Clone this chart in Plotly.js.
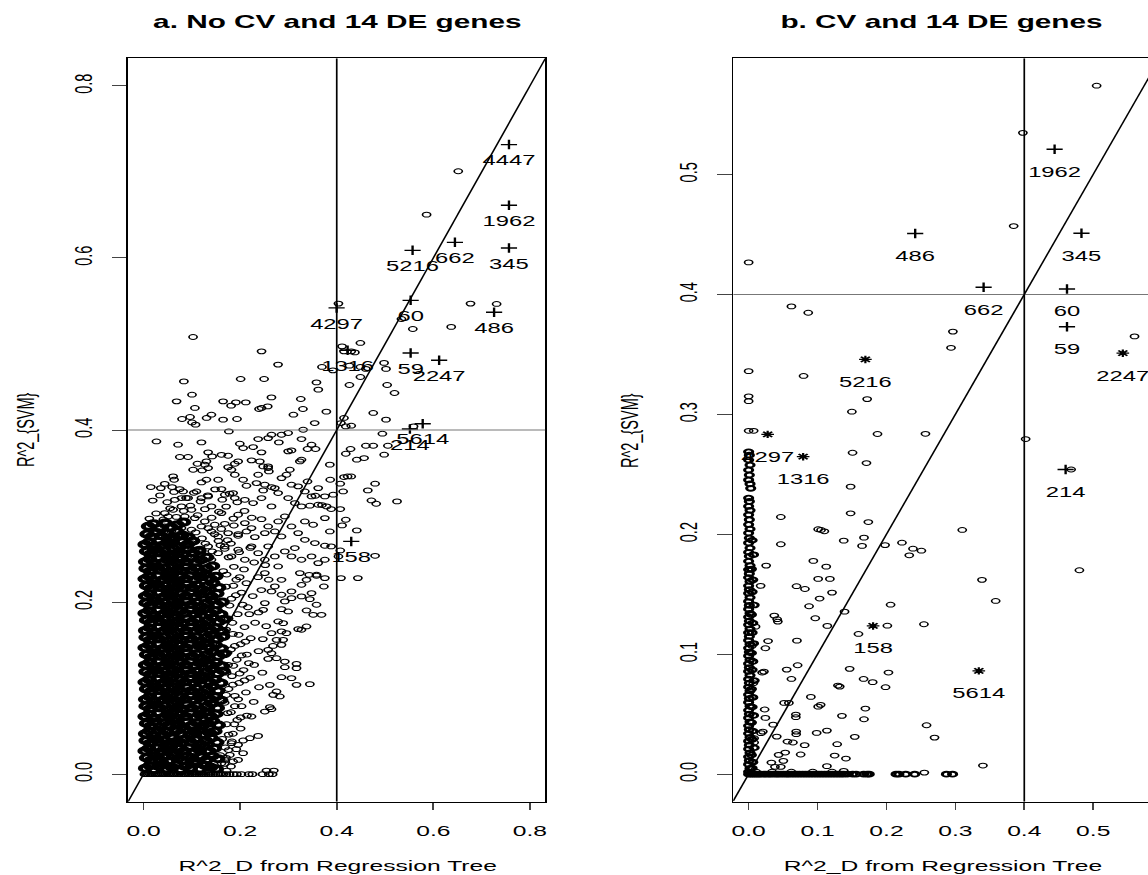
<!DOCTYPE html>
<html><head><meta charset="utf-8">
<script src="https://cdn.plot.ly/plotly-3.0.1.min.js"></script>
<style>
html,body{margin:0;padding:0;overflow:hidden;background:#fff;width:1148px;height:875px;}
#wrap{width:682px;height:875px;transform:scaleX(1.7);transform-origin:0 0;}
</style></head><body>
<div id="wrap"><div id="chart" style="width:682px;height:875px;"></div></div>
<script>
// ---------- DATA ----------
const THRESHOLD = 0.4;
const LABEL_DROP = 0.02;
const xTicksA = [0, 0.2, 0.4, 0.6, 0.8];
const yTicksA = [0, 0.2, 0.4, 0.6, 0.8];
const xTicksB = [0, 0.1, 0.2, 0.3, 0.4, 0.5];
const yTicksB = [0, 0.1, 0.2, 0.3, 0.4, 0.5];

// Panel a: labelled DE genes
const aGeneId = ['4447','1962','5216','662','345','4297','60','486','1316','59','2247','5614','214','158'];
const aGeneX  = [0.7566,0.7566,0.557,0.6447,0.7566,0.3997,0.553,0.7258,0.4225,0.553,0.612,0.578,0.5515,0.43];
const aGeneY  = [0.7317,0.6612,0.6088,0.6181,0.6116,0.5419,0.5507,0.5368,0.4926,0.4895,0.481,0.4073,0.4012,0.2705];

// Panel b: labelled DE genes
const bGeneId  = ['1962','486','345','662','60','59','214','2247','5216','4297','1316','158','5614'];
const bGeneX   = [0.444,0.2417,0.483,0.341,0.462,0.462,0.460,0.543,0.1694,0.0276,0.0791,0.1806,0.334];
const bGeneY   = [0.521,0.4508,0.451,0.406,0.4045,0.373,0.254,0.351,0.3458,0.2833,0.2647,0.1236,0.0861];
const bGeneSym = ['+','+','+','+','+','+','+','*','*','*','*','*','*'];

// Panel a: isolated points
const aSparse = [[0.6516,0.7007],[0.586,0.6503],[0.4035,0.5469],[0.677,0.5469],[0.731,0.5465],[0.534,0.529],[0.5575,0.5174],[0.637,0.5198],[0.1025,0.5081],
[0.411,0.4972],[0.415,0.4914],[0.430,0.4914],[0.4375,0.4902],[0.449,0.5012],[0.2443,0.4914],[0.2785,0.476],[0.3694,0.4733],[0.3921,0.4693],[0.4263,0.4748],[0.449,0.4733],[0.4603,0.471],[0.498,0.478],[0.502,0.471],
[0.449,0.4616],[0.4263,0.4523],[0.5044,0.4523],[0.5196,0.443],[0.0835,0.4565],[0.201,0.4593],[0.2496,0.4593],[0.358,0.4553],[0.3618,0.4469],
[0.1003,0.441],[0.0684,0.4333],[0.1063,0.4256],[0.1647,0.4333],[0.1813,0.4283],[0.1912,0.4321],[0.2117,0.4321],[0.2648,0.4379],[0.2391,0.4244],[0.2443,0.4256],[0.2571,0.4274],
[0.3255,0.436],[0.33,0.4244],[0.3785,0.4213],[0.3103,0.4178],[0.3543,0.4081],[0.0797,0.4128],[0.0963,0.4151],[0.1003,0.4088],[0.1077,0.4062],[0.1405,0.4178],[0.1305,0.414],[0.1647,0.412],[0.1935,0.4128],
[0.415,0.414],[0.4187,0.4042],[0.43,0.405],[0.4087,0.4081],[0.4756,0.4198],[0.502,0.412],[0.559,0.4042],
[0.4945,0.3957],[0.4982,0.3713],[0.4603,0.3817],[0.4756,0.3817],[0.5059,0.3817],[0.4566,0.3674],[0.4187,0.3724],[0.4286,0.3779],[0.4415,0.3655],
[0.5248,0.317],[0.4794,0.3376],[0.4643,0.3298],[0.4718,0.3181],[0.4817,0.3143],[0.415,0.3453],[0.4225,0.346],[0.43,0.346],[0.4073,0.3376],[0.4133,0.3286],
[0.3557,0.3236],[0.3694,0.3128],[0.3884,0.3081],[0.4073,0.3081],[0.4187,0.2957],[0.411,0.2891],[0.4415,0.2833],[0.4794,0.2538],[0.4073,0.26],[0.4035,0.253],[0.3884,0.2647],
[0.4088,0.2279],[0.4437,0.2279],[0.3733,0.2181],[0.3429,0.2317],[0.358,0.2306],[0.2545,0.0042],[0.2697,0.0042]];

// Panel a: medium-density band
const aMid = [[0.0267,0.3867],[0.0715,0.3829],[0.1199,0.3856],[0.1766,0.3984],[0.1993,0.384],[0.2062,0.379],[0.2269,0.3802],[0.2373,0.3895],[0.2442,0.374],[0.258,0.3906],[0.2649,0.3945],[0.2801,0.3856],[0.2856,0.3945],[0.2994,0.3965],[0.3063,0.3763],[0.327,0.3895],[0.3305,0.4003],[0.3395,0.3779],[0.3478,0.3829],[0.3561,0.3779],[0.3236,0.3635],[0.327,0.3655],[0.3857,0.3597],[0.075,0.3686],[0.0922,0.3686],[0.1337,0.374],[0.1302,0.3635],[0.142,0.3693],[0.1613,0.3712],[0.1751,0.3701],[0.1116,0.3608],[0.1268,0.3597],[0.1889,0.3608],[0.1958,0.3635],[0.2235,0.3647],[0.2407,0.3635],[0.2477,0.3577],[0.258,0.3577],[0.2994,0.3752],
[0.1026,0.3538],[0.1213,0.353],[0.1337,0.3558],[0.1751,0.3569],[0.182,0.3538],[0.1889,0.348],[0.2373,0.348],[0.258,0.3558],[0.2594,0.3519],[0.2856,0.3441],[0.2959,0.348],[0.3029,0.3538],[0.3395,0.3402],[0.3616,0.3325],[0.3865,0.3422],[0.0612,0.3461],[0.0633,0.3422],[0.0439,0.3375],[0.015,0.3337],[0.0357,0.3325],[0.0591,0.3337],[0.075,0.3313],[0.0819,0.3286],[0.1199,0.3391],[0.1302,0.3422],[0.1544,0.3422],[0.1613,0.3313],[0.1682,0.3248],[0.1855,0.3267],[0.2062,0.3422],[0.2131,0.3352],[0.2338,0.3383],[0.2511,0.3364],[0.2649,0.3337],[0.2477,0.3298],[0.2718,0.3325],[0.2787,0.3267],[0.3063,0.3364],[0.3201,0.3345],[0.334,0.3286],[0.3478,0.3228],[0.3754,0.3228],[0.3926,0.3248],[0.0922,0.3209],[0.1337,0.3228],[0.1095,0.3286],
[0.0647,0.3189],[0.0785,0.3209],[0.1199,0.3209],[0.0439,0.3034],[0.0612,0.3073],[0.0785,0.3112],[0.0992,0.3073],[0.1406,0.3112],[0.1613,0.3034],[0.1889,0.3209],[0.2097,0.3189],[0.2269,0.3151],[0.2442,0.3209],[0.2649,0.3112],[0.2994,0.3209],[0.3132,0.3151],[0.327,0.3112],[0.3443,0.312],[0.3616,0.3131],[0.3789,0.3112],[0.0439,0.2879],[0.0508,0.2995],[0.0854,0.2995],[0.106,0.2976],[0.1268,0.2937],[0.1475,0.2899],[0.1682,0.291],[0.1958,0.3015],[0.2097,0.2918],[0.2235,0.286],[0.2442,0.2964],[0.258,0.2879],[0.2787,0.2937],[0.2925,0.2995],[0.3063,0.2879],[0.334,0.2937],[0.3512,0.2899],[0.3754,0.2976],[0.3857,0.2821],[0.0163,0.2755],[0.0301,0.2771],[0.0577,0.2821],[0.0785,0.286],[0.0992,0.2841],[0.1199,0.2879],[0.1406,0.2821],[0.1544,0.2763],[0.1751,0.2802],[0.1958,0.2771],[0.2131,0.2821],[0.2304,0.2755],[0.2511,0.2802],[0.2718,0.2821],[0.2856,0.2763],[0.3201,0.2802],[0.334,0.2724],[0.3547,0.2686],[0.3754,0.2655],
[0.0129,0.2531],[0.0232,0.2589],[0.0301,0.2725],[0.0439,0.2647],[0.0577,0.2686],[0.0647,0.2569],[0.0715,0.2492],[0.0854,0.2628],[0.0992,0.2686],[0.106,0.2531],[0.1199,0.2589],[0.1337,0.2647],[0.1406,0.2492],[0.1544,0.2569],[0.1682,0.2647],[0.182,0.2531],[0.1958,0.2608],[0.2097,0.2492],[0.2235,0.2647],[0.2373,0.2569],[0.2511,0.2492],[0.258,0.2647],[0.2718,0.2531],[0.2787,0.2414],[0.2925,0.2589],[0.3063,0.2531],[0.3132,0.2628],[0.327,0.2492],[0.3478,0.2531],[0.3616,0.2453],[0.3754,0.2492],[0.3236,0.2337],[0.3374,0.2259],[0.3582,0.2318],[0.3754,0.2279],
[0.2511,0.2337],[0.2718,0.2182],[0.2856,0.2259],[0.3063,0.2124],[0.327,0.2201],[0.3478,0.2104],
[0.012,0.297],[0.026,0.303],[0.041,0.296],[0.055,0.309],[0.068,0.299],[0.083,0.306],[0.097,0.312],[0.112,0.301],[0.127,0.308],[0.141,0.298],[0.156,0.305],[0.171,0.311],[0.186,0.297],[0.019,0.318],[0.034,0.324],[0.049,0.316],[0.063,0.328],[0.088,0.321],[0.104,0.327],[0.118,0.317],[0.133,0.324],[0.148,0.331],[0.163,0.319],[0.178,0.326],[0.194,0.316],[0.209,0.306],[0.224,0.298],
[0.108,0.281],[0.121,0.274],[0.134,0.286],[0.147,0.279],[0.161,0.285],[0.174,0.272],[0.187,0.289],[0.117,0.262],[0.128,0.268],[0.142,0.259],[0.155,0.271],[0.168,0.262],[0.181,0.268],[0.196,0.279]];

// Panel a: right fringe of the dense cloud
const aFringe = [[0.2649,0.2124],[0.2856,0.2085],[0.3063,0.2046],[0.327,0.2066],[0.3443,0.2034],[0.3581,0.1969],[0.3685,0.1852],[0.3512,0.1852],[0.3374,0.1903],[0.2994,0.1891],[0.2856,0.1918],[0.2925,0.2008],[0.2511,0.1988],[0.2477,0.191],[0.2787,0.1775],[0.2891,0.1755],[0.3374,0.1717],[0.327,0.1678],[0.3201,0.1686],[0.2649,0.1639],[0.2856,0.1659],[0.2959,0.1639],[0.2753,0.1561],[0.2891,0.1561],[0.2856,0.1503],[0.258,0.1445],[0.2649,0.1406],[0.2753,0.1348],[0.2925,0.1309],[0.3167,0.1282],[0.3167,0.1232],[0.2925,0.1243],[0.2856,0.1127],[0.3063,0.1116],[0.3167,0.1038],[0.3443,0.1046],[0.2615,0.1038],[0.2753,0.0961],[0.2822,0.0903],[0.2684,0.0922],[0.2615,0.0779],[0.2649,0.0755],[0.2511,0.0728],[0.2235,0.067],[0.2373,0.0445],[0.2201,0.0418],[0.2062,0.0391],[0.182,0.036],[0.1958,0.0341],[0.2062,0.0244],[0.1786,0.0224],[0.1958,0.0166],[0.1855,0.0147],[0.1613,0.0128],[0.1682,0.0166],
[0.168,0.012],[0.176,0.028],[0.163,0.041],[0.185,0.047],[0.172,0.058],[0.194,0.063],[0.181,0.072],[0.168,0.083],[0.203,0.079],[0.189,0.091],[0.176,0.099],[0.212,0.095],[0.198,0.106],[0.183,0.114],[0.221,0.112],[0.207,0.121],[0.175,0.127],[0.193,0.133],[0.229,0.127],[0.214,0.139],[0.181,0.145],[0.238,0.143],[0.201,0.151],[0.222,0.158],[0.185,0.163],[0.247,0.157],[0.209,0.171],[0.231,0.176],[0.176,0.181],[0.195,0.186],[0.254,0.172],[0.216,0.194],[0.238,0.188],[0.182,0.204],[0.203,0.211],[0.226,0.207],[0.171,0.218],[0.192,0.226],[0.213,0.222],[0.237,0.229],[0.165,0.236],[0.187,0.241],[0.208,0.238],[0.229,0.246],[0.176,0.252],[0.198,0.258],[0.221,0.263],[0.159,0.266],[0.244,0.214],[0.259,0.226],[0.252,0.243],[0.192,0.029],[0.201,0.053],[0.214,0.068],[0.228,0.084],[0.239,0.101],[0.246,0.118],[0.258,0.134],[0.268,0.149],[0.172,0.004],[0.181,0.009],[0.159,0.022],
[0.172,0.232],[0.186,0.219],[0.199,0.229],[0.178,0.196],[0.191,0.208],[0.205,0.197],[0.219,0.186],[0.171,0.168],[0.184,0.176],[0.197,0.162],[0.211,0.154],[0.174,0.141],[0.189,0.149],[0.203,0.138],[0.218,0.129],[0.172,0.118],[0.186,0.126],[0.199,0.117],[0.171,0.092],[0.185,0.104],[0.196,0.087],[0.209,0.109],[0.174,0.071],[0.189,0.079],[0.201,0.066],[0.176,0.046],[0.188,0.058],[0.169,0.031],[0.183,0.038],[0.171,0.019]];

// Panel a: dense core (estimated, the picture is solid black here)
const aCore = [
[0.004,0.007],[0.013,0.010],[0.021,0.005],[0.031,0.009],[0.040,0.012],[0.048,0.006],[0.059,0.008],[0.068,0.011],[0.077,0.005],[0.086,0.009],[0.097,0.007],[0.106,0.012],[0.117,0.006],[0.128,0.010],[0.139,0.008],[0.151,0.006],
[0.006,0.019],[0.015,0.016],[0.024,0.021],[0.033,0.017],[0.043,0.020],[0.052,0.015],[0.061,0.022],[0.071,0.018],[0.080,0.016],[0.090,0.021],[0.099,0.019],[0.109,0.015],[0.120,0.020],[0.131,0.017],[0.142,0.021],[0.154,0.018],
[0.003,0.027],[0.011,0.030],[0.020,0.025],[0.029,0.031],[0.037,0.026],[0.047,0.029],[0.056,0.032],[0.066,0.025],[0.075,0.030],[0.084,0.027],[0.094,0.031],[0.104,0.026],[0.114,0.029],[0.125,0.032],[0.136,0.027],[0.147,0.030],
[0.005,0.039],[0.014,0.036],[0.023,0.041],[0.032,0.037],[0.041,0.040],[0.050,0.035],[0.060,0.042],[0.069,0.038],[0.079,0.036],[0.088,0.041],[0.098,0.037],[0.108,0.040],[0.118,0.035],[0.129,0.039],[0.140,0.042],[0.152,0.037],
[0.004,0.047],[0.012,0.050],[0.021,0.045],[0.030,0.051],[0.039,0.046],[0.049,0.049],[0.058,0.044],[0.067,0.050],[0.076,0.047],[0.086,0.052],[0.096,0.045],[0.105,0.049],[0.115,0.051],[0.126,0.046],[0.137,0.048],[0.148,0.050],
[0.006,0.059],[0.015,0.056],[0.024,0.061],[0.034,0.055],[0.043,0.060],[0.052,0.057],[0.062,0.062],[0.071,0.058],[0.081,0.055],[0.090,0.061],[0.100,0.057],[0.110,0.060],[0.121,0.056],[0.132,0.059],[0.143,0.062],[0.155,0.057],
[0.003,0.067],[0.012,0.070],[0.022,0.065],[0.031,0.071],[0.040,0.066],[0.050,0.069],[0.059,0.072],[0.068,0.065],[0.078,0.070],[0.087,0.067],[0.097,0.071],[0.107,0.066],[0.117,0.069],[0.128,0.072],[0.139,0.067],[0.150,0.070],
[0.005,0.079],[0.014,0.076],[0.023,0.081],[0.033,0.077],[0.042,0.080],[0.051,0.075],[0.061,0.082],[0.070,0.078],[0.080,0.076],[0.089,0.081],[0.099,0.077],[0.109,0.080],[0.119,0.075],[0.130,0.079],[0.141,0.082],[0.153,0.077],
[0.004,0.087],[0.013,0.090],[0.021,0.085],[0.030,0.091],[0.040,0.086],[0.049,0.089],[0.058,0.092],[0.068,0.085],[0.077,0.090],[0.086,0.087],[0.096,0.091],[0.106,0.086],[0.116,0.089],[0.127,0.092],[0.138,0.087],[0.149,0.090],[0.160,0.086],
[0.006,0.099],[0.015,0.096],[0.024,0.101],[0.033,0.097],[0.042,0.100],[0.052,0.095],[0.061,0.102],[0.071,0.098],[0.080,0.096],[0.090,0.101],[0.099,0.097],[0.109,0.100],[0.120,0.095],[0.131,0.099],[0.142,0.102],[0.154,0.097],
[0.003,0.107],[0.012,0.110],[0.021,0.105],[0.030,0.111],[0.039,0.106],[0.048,0.109],[0.058,0.112],[0.067,0.105],[0.077,0.110],[0.086,0.107],[0.096,0.111],[0.105,0.106],[0.115,0.109],[0.126,0.112],[0.137,0.107],[0.148,0.110],[0.160,0.106],
[0.005,0.119],[0.014,0.116],[0.023,0.121],[0.032,0.117],[0.042,0.120],[0.051,0.115],[0.060,0.122],[0.070,0.118],[0.079,0.116],[0.089,0.121],[0.098,0.117],[0.108,0.120],[0.119,0.115],[0.130,0.119],[0.141,0.122],[0.153,0.117],[0.165,0.120],
[0.004,0.127],[0.013,0.130],[0.022,0.125],[0.031,0.131],[0.040,0.126],[0.049,0.129],[0.059,0.132],[0.068,0.125],[0.078,0.130],[0.087,0.127],[0.097,0.131],[0.107,0.126],[0.117,0.129],[0.128,0.132],[0.139,0.127],[0.150,0.130],[0.162,0.126],
[0.006,0.139],[0.015,0.136],[0.024,0.141],[0.033,0.137],[0.043,0.140],[0.052,0.135],[0.061,0.142],[0.071,0.138],[0.080,0.136],[0.090,0.141],[0.100,0.137],[0.110,0.140],[0.120,0.135],[0.131,0.139],[0.142,0.142],[0.154,0.137],[0.166,0.140],
[0.003,0.147],[0.012,0.150],[0.021,0.145],[0.031,0.151],[0.040,0.146],[0.049,0.149],[0.058,0.152],[0.068,0.145],[0.077,0.150],[0.087,0.147],[0.096,0.151],[0.106,0.146],[0.116,0.149],[0.127,0.152],[0.138,0.147],[0.149,0.150],[0.161,0.146],
[0.005,0.159],[0.014,0.156],[0.023,0.161],[0.032,0.157],[0.042,0.160],[0.051,0.155],[0.060,0.162],[0.070,0.158],[0.079,0.156],[0.089,0.161],[0.099,0.157],[0.109,0.160],[0.119,0.155],[0.130,0.159],[0.141,0.162],[0.152,0.157],[0.164,0.160],
[0.004,0.167],[0.013,0.170],[0.022,0.165],[0.031,0.171],[0.040,0.166],[0.050,0.169],[0.059,0.172],[0.068,0.165],[0.078,0.170],[0.088,0.167],[0.097,0.171],[0.107,0.166],[0.117,0.169],[0.128,0.172],[0.139,0.167],[0.150,0.170],[0.162,0.166],
[0.006,0.179],[0.015,0.176],[0.024,0.181],[0.034,0.177],[0.043,0.180],[0.052,0.175],[0.062,0.182],[0.071,0.178],[0.081,0.176],[0.090,0.181],[0.100,0.177],[0.110,0.180],[0.121,0.175],[0.132,0.179],[0.143,0.182],[0.155,0.177],[0.167,0.180],
[0.003,0.187],[0.012,0.190],[0.021,0.185],[0.030,0.191],[0.040,0.186],[0.049,0.189],[0.058,0.192],[0.067,0.185],[0.077,0.190],[0.086,0.187],[0.096,0.191],[0.106,0.186],[0.116,0.189],[0.127,0.192],[0.138,0.187],[0.149,0.190],[0.160,0.186],
[0.005,0.199],[0.014,0.196],[0.023,0.201],[0.033,0.197],[0.042,0.200],[0.051,0.195],[0.061,0.202],[0.070,0.198],[0.080,0.196],[0.089,0.201],[0.099,0.197],[0.109,0.200],[0.119,0.195],[0.130,0.199],[0.141,0.202],[0.152,0.197],[0.163,0.200],
[0.004,0.207],[0.013,0.210],[0.022,0.205],[0.031,0.211],[0.041,0.206],[0.050,0.209],[0.059,0.212],[0.069,0.205],[0.078,0.210],[0.088,0.207],[0.097,0.211],[0.107,0.206],[0.118,0.209],[0.129,0.212],[0.140,0.207],[0.152,0.210],
[0.006,0.219],[0.015,0.216],[0.024,0.221],[0.033,0.217],[0.043,0.220],[0.052,0.215],[0.062,0.222],[0.071,0.218],[0.081,0.216],[0.090,0.221],[0.100,0.217],[0.110,0.220],[0.121,0.215],[0.132,0.219],[0.144,0.222],[0.156,0.217],
[0.003,0.227],[0.012,0.230],[0.021,0.225],[0.030,0.231],[0.040,0.226],[0.049,0.229],[0.058,0.232],[0.068,0.225],[0.077,0.230],[0.087,0.227],[0.096,0.231],[0.106,0.226],[0.117,0.229],[0.128,0.232],[0.139,0.227],[0.150,0.230],
[0.005,0.239],[0.014,0.236],[0.023,0.241],[0.033,0.237],[0.042,0.240],[0.051,0.235],[0.061,0.242],[0.070,0.238],[0.080,0.236],[0.089,0.241],[0.099,0.237],[0.109,0.240],[0.120,0.235],[0.131,0.239],[0.143,0.242],
[0.004,0.247],[0.013,0.250],[0.022,0.245],[0.031,0.251],[0.041,0.246],[0.050,0.249],[0.059,0.252],[0.069,0.245],[0.078,0.250],[0.088,0.247],[0.098,0.251],[0.108,0.246],[0.119,0.249],[0.131,0.252],
[0.006,0.259],[0.015,0.256],[0.024,0.261],[0.034,0.257],[0.043,0.260],[0.053,0.255],[0.062,0.262],[0.072,0.258],[0.082,0.256],[0.092,0.261],[0.103,0.257],[0.115,0.260],
[0.003,0.267],[0.012,0.270],[0.022,0.265],[0.031,0.271],[0.041,0.266],[0.050,0.269],[0.060,0.272],[0.070,0.265],[0.080,0.270],[0.091,0.267],[0.102,0.271],
[0.007,0.279],[0.017,0.276],[0.027,0.281],[0.037,0.277],[0.048,0.280],[0.058,0.275],[0.069,0.282],[0.080,0.278],[0.092,0.276],
[0.010,0.288],[0.021,0.291],[0.033,0.286],[0.045,0.292],[0.057,0.287],[0.070,0.290],[0.083,0.293]];

// Panel a: points lying on R2_SVM = 0
const aZeroX = [0.002,0.005,0.009,0.013,0.016,0.020,0.025,0.029,0.033,0.038,0.042,0.046,0.051,0.055,0.060,0.064,0.069,0.073,0.078,0.083,0.087,0.092,0.096,0.101,0.106,0.110,0.115,0.120,0.125,0.129,0.134,0.139,0.144,0.149,0.154,0.159,0.165,0.171,0.178,0.186,0.193,0.2026,0.2177,0.2254,0.2465,0.2594,0.267];

// Panel b: isolated points
const bSparse = [[0.505,0.574],[0.398,0.5347],[0.3846,0.457],[0.560,0.365],[0.402,0.2794],[0.468,0.254],[0.310,0.2036],[0.480,0.170],[0.3386,0.162],[0.3585,0.1444],[0.0,0.4267],
[0.0621,0.390],[0.0865,0.3847],[0.2964,0.369],[0.2937,0.3555],[0.0,0.336],[0.0797,0.332],[0.0,0.315],[0.0,0.311],[0.172,0.3127],[0.1498,0.3022],[0.0,0.2863],[0.0073,0.2863],[0.187,0.2836],[0.2566,0.2838],[0.1508,0.268],[0.171,0.2594],[0.148,0.2397],[0.0467,0.2144],[0.148,0.2175],[0.1737,0.2102],[0.1009,0.2042],[0.1051,0.2036],[0.1099,0.2025],[0.0467,0.1917],[0.138,0.1947],[0.1674,0.1972],[0.1646,0.1903],[0.198,0.191],[0.2225,0.193],[0.2385,0.188],[0.2507,0.1863],[0.2331,0.1825],[0.0254,0.1739],[0.0939,0.1778],[0.1126,0.173],[0.1009,0.1628],[0.1179,0.1628],
[0.0174,0.157],[0.0695,0.1567],[0.0817,0.1544],[0.121,0.1514],[0.103,0.1464],[0.0877,0.140],[0.1392,0.1355],[0.206,0.1413],[0.0372,0.1322],[0.0414,0.1292],[0.0424,0.1272],[0.0967,0.130],[0.010,0.123],[0.1142,0.1236],[0.2013,0.1238],[0.2544,0.125],[0.1594,0.1169],[0.0282,0.111],[0.0701,0.1113],[0.0243,0.105],[0.0048,0.107],[0.0222,0.0855],[0.0196,0.0847],[0.0552,0.0872],[0.0711,0.0908],[0.0621,0.0794],[0.1466,0.0878],[0.1668,0.0794],[0.180,0.0767],[0.2029,0.0847],[0.1987,0.0725],[0.1296,0.0739],[0.1322,0.073],[0.0068,0.0758],[0.0903,0.0644],[0.1009,0.0563],[0.1045,0.0578],[0.0515,0.0594],[0.0584,0.0594],[0.0232,0.0539],[0.0243,0.0469],[0.0685,0.0497],[0.0685,0.0475],[0.1694,0.0547],[0.1354,0.0486],[0.1674,0.0458],[0.0356,0.0413],[0.2582,0.0408],[0.2698,0.0305],[0.0206,0.0355],[0.018,0.0342],[0.0408,0.0313],[0.069,0.0355],[0.069,0.0333],[0.0987,0.0344],[0.1136,0.0363],[0.154,0.0311],[0.0563,0.0272],[0.0643,0.0264],[0.0813,0.0242],[0.1285,0.025],[0.008,0.030],[0.008,0.0264],[0.0435,0.0161],[0.0531,0.018],[0.0755,0.0164],[0.1248,0.0155],[0.1412,0.013],[0.033,0.0097],[0.0504,0.0111],[0.0382,0.0061],[0.0467,0.0061],[0.1136,0.0067],[0.138,0.0028],[0.340,0.0072],[0.255,0.0013],
[0.011,0.002],[0.034,0.002],[0.062,0.002],[0.093,0.002],[0.121,0.002]];

// Panel b: stacked points at R2_D ~ 0
const bColumn = [[0,0.2688],[0.001,0.266],[0,0.2619],[0.002,0.2578],[0,0.2536],[0.001,0.2494],[0,0.2453],[0.002,0.242],[0.003,0.2383],[0,0.2302],[0.001,0.2274],[0,0.2233],[0.002,0.22],[0,0.2163],[0.001,0.2122],[0,0.2081],[0.002,0.2044],[0,0.2011],[0.001,0.1969],[0,0.1928],[0.002,0.1886],[0,0.185],[0.001,0.1817],[0,0.1775],[0.002,0.1739],[0,0.1706],[0.001,0.1672],[0,0.164],[0.002,0.1606],[0,0.1571],[0.001,0.154],[0,0.1508],[0.002,0.1473],[0,0.144],[0.001,0.1407],[0,0.1376],[0.002,0.1342],[0,0.131],[0.001,0.1277],[0,0.1245],[0.002,0.1212],[0,0.118],[0.001,0.1148],[0,0.1115],[0.002,0.1083],[0,0.1051],[0.001,0.1018],[0,0.0986],[0.002,0.0954],[0,0.0921],[0.001,0.0889],[0,0.0857],[0.002,0.0824],[0,0.0792],[0.001,0.076],[0,0.0727],[0.002,0.0695],[0,0.0663],[0.001,0.063],[0,0.0598],[0.002,0.0566],[0,0.0533],[0.001,0.0501],[0,0.0469],[0.002,0.0436],[0,0.0404],[0.001,0.0372],[0,0.0339],[0.002,0.0307],[0,0.0275],[0.001,0.0242],[0,0.021],[0.002,0.0178],[0,0.0145],[0.001,0.0113],[0,0.0081],[0.002,0.0048],[0,0.002],
[0.005,0.195],[0.007,0.183],[0.004,0.171],[0.006,0.162],[0.005,0.152],[0.008,0.141],[0.004,0.133],[0.006,0.126],[0.005,0.118],[0.007,0.109],[0.004,0.101],[0.006,0.094],[0.005,0.087],[0.008,0.078],[0.004,0.071],[0.006,0.064],[0.005,0.056],[0.007,0.049],[0.004,0.043],[0.006,0.036],[0.005,0.029],[0.008,0.022],[0.004,0.016],[0.006,0.010],[0.005,0.005]];

// Panel b: points lying on R2_SVM = 0
const bZeroX = [0.000,0.003,0.006,0.009,0.012,0.015,0.018,0.022,0.025,0.029,0.032,0.036,0.040,0.043,0.047,0.051,0.055,0.058,0.062,0.066,0.070,0.074,0.078,0.082,0.086,0.090,0.094,0.098,0.102,0.106,0.110,0.114,0.118,0.122,0.126,0.130,0.134,0.138,0.143,0.151,0.156,0.167,0.172,0.175,0.214,0.218,0.228,0.241,0.287,0.296];

// ---------- STYLE / LAYOUT ----------
const FONT = 'Liberation Sans, Arial, Helvetica, sans-serif';
const domA = [0.11049, 0.47041], domB = [0.63240, 0.99258], domY = [0.08377, 0.93337];
const rangeA = [-0.032, 0.832];
const rangeBx = [-0.0224, 0.5836], rangeBy = [-0.02296, 0.59686];

const circle = (lw, sz) => ({symbol:'circle-open', size:sz||4.8, color:'#000', line:{width:lw, color:'#000'}});
function pairTrace(pairs, xa, ya, lw, sz){
  return {type:'scatter', mode:'markers', x:pairs.map(p=>p[0]), y:pairs.map(p=>p[1]),
    xaxis:xa, yaxis:ya, marker:circle(lw, sz), hoverinfo:'skip', showlegend:false};
}
function zeroTrace(xs, xa, ya, lw){
  return {type:'scatter', mode:'markers', x:xs, y:xs.map(()=>0), xaxis:xa, yaxis:ya,
    marker:circle(lw), hoverinfo:'skip', showlegend:false};
}
function symTrace(xs, ys, sym, xa, ya){
  const plus = sym === '+';
  return {type:'scatter', mode:'markers', x:xs, y:ys, xaxis:xa, yaxis:ya,
    marker:{symbol: plus ? 'cross-thin-open' : 'asterisk-open', size: plus ? 6.8 : 6.2,
      color:'#000', line:{width: plus ? 1.4 : 1.3, color:'#000'}}, hoverinfo:'skip', showlegend:false};
}
function labelTrace(xs, ys, ids, xa, ya){
  return {type:'scatter', mode:'text', x:xs, y:ys.map(v=>v-LABEL_DROP), text:ids, xaxis:xa, yaxis:ya,
    textposition:'middle center', textfont:{family:FONT, size:14, color:'#000'},
    hoverinfo:'skip', showlegend:false, cliponaxis:false};
}
const pick = (arr, sym, s) => arr.filter((_, i) => sym[i] === s);

const traces = [
  pairTrace(aCore, 'x', 'y', 3, 6),
  pairTrace(aFringe, 'x', 'y', 1),
  pairTrace(aMid, 'x', 'y', 1),
  pairTrace(aSparse, 'x', 'y', 1),
  zeroTrace(aZeroX, 'x', 'y', 1.1),
  symTrace(aGeneX, aGeneY, '+', 'x', 'y'),
  labelTrace(aGeneX, aGeneY, aGeneId, 'x', 'y'),
  pairTrace(bColumn, 'x2', 'y2', 1.8),
  pairTrace(bSparse, 'x2', 'y2', 1),
  zeroTrace(bZeroX, 'x2', 'y2', 1.8),
  symTrace(pick(bGeneX,bGeneSym,'+'), pick(bGeneY,bGeneSym,'+'), '+', 'x2', 'y2'),
  symTrace(pick(bGeneX,bGeneSym,'*'), pick(bGeneY,bGeneSym,'*'), '*', 'x2', 'y2'),
  labelTrace(bGeneX, bGeneY, bGeneId, 'x2', 'y2')
];

function xAxis(dom, range, tv, anchor){
  return {domain:dom, range:range, anchor:anchor, tickvals:tv, ticktext:tv.map(v=>v.toFixed(1)),
    ticks:'outside', ticklen:7, tickwidth:1, tickcolor:'#444', ticklabelstandoff:9,
    showline:true, mirror:true, linecolor:'#000', linewidth:1, showgrid:false, zeroline:false,
    tickfont:{family:FONT, size:14.5, color:'#000'}, fixedrange:true};
}
function yAxis(dom, range, tv, anchor){
  return {domain:dom, range:range, anchor:anchor, tickvals:tv, ticktext:tv.map(v=>v.toFixed(1)),
    ticks:'outside', ticklen:8.6, tickwidth:1, tickcolor:'#444', tickangle:-90, ticklabelstandoff:6,
    showline:true, mirror:true, linecolor:'#000', linewidth:1, showgrid:false, zeroline:false,
    tickfont:{family:FONT, size:14.5, color:'#000'}, fixedrange:true};
}
function refLines(xr, yr, xref, yref){
  const lo = Math.max(xr[0], yr[0]), hi = Math.min(xr[1], yr[1]);
  return [
    {type:'line', xref, yref, x0:THRESHOLD, x1:THRESHOLD, y0:yr[0], y1:yr[1], line:{color:'#000', width:1}},
    {type:'line', xref, yref, x0:xr[0], x1:xr[1], y0:THRESHOLD, y1:THRESHOLD, line:{color:'#777', width:1}},
    {type:'line', xref, yref, x0:lo, x1:hi, y0:lo, y1:hi, line:{color:'#000', width:1}}
  ];
}
const mid = d => (d[0]+d[1])/2;
const ann = (text, x, y, size, angle, bold) => ({text: bold ? '<b>'+text+'</b>' : text, x, y, xref:'paper', yref:'paper',
  xanchor:'center', yanchor:'middle', showarrow:false, textangle:angle||0, font:{family:FONT, size, color:'#000'}});

const layout = {
  width:682, height:875, margin:{l:0, r:0, t:0, b:0},
  paper_bgcolor:'#fff', plot_bgcolor:'#fff', showlegend:false,
  xaxis: xAxis(domA, rangeA, xTicksA, 'y'),
  yaxis: yAxis(domY, rangeA, yTicksA, 'x'),
  xaxis2: xAxis(domB, rangeBx, xTicksB, 'y2'),
  yaxis2: yAxis(domY, rangeBy, yTicksB, 'x2'),
  shapes: refLines(rangeA, rangeA, 'x', 'y').concat(refLines(rangeBx, rangeBy, 'x2', 'y2')),
  annotations: [
    ann('a. No CV and 14 DE genes', mid(domA), 0.9752, 17.5, 0, true),
    ann('b. CV and 14 DE genes', mid(domB), 0.9752, 17.5, 0, true),
    ann('R^2_D from Regression Tree', mid(domA), 0.0103, 14.5),
    ann('R^2_D from Regression Tree', mid(domB), 0.0103, 14.5),
    ann('R^2_{SVM}', 0.0221, 0.5086, 14.5, -90),
    ann('R^2_{SVM}', 0.5425, 0.5086, 14.5, -90)
  ]
};
Plotly.newPlot('chart', traces, layout, {staticPlot:true, displayModeBar:false});
</script></body></html>
